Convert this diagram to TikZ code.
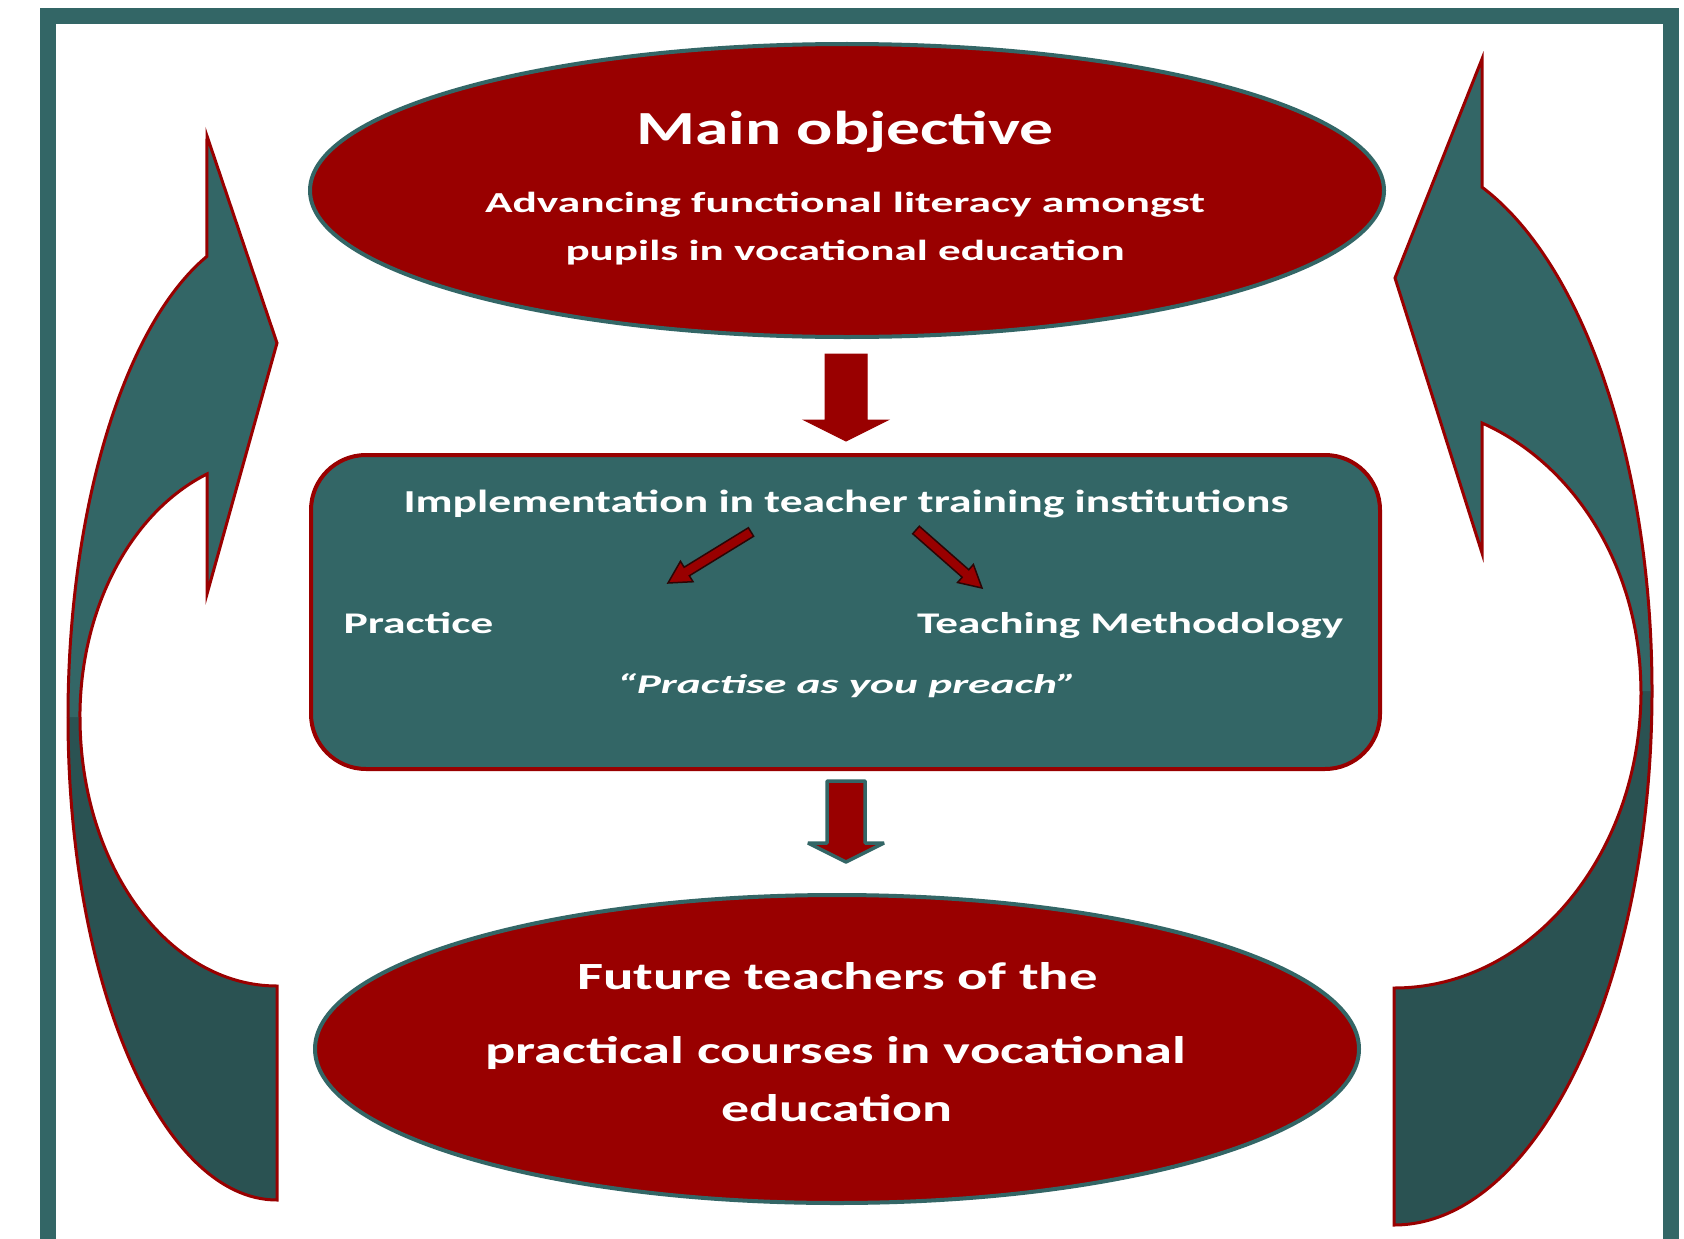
\documentclass[tikz,border=0pt]{standalone}
\usepackage{fontspec}
\usetikzlibrary{calc,shapes.geometric}
\setmainfont{Carlito}
\definecolor{wine}{HTML}{990000}
\definecolor{tealbase}{HTML}{336666}
\definecolor{tealdeep}{HTML}{2A5252}
\definecolor{inkline}{HTML}{2B0505}

% one line of text set at a given size and stretched to a given width
\newsavebox\fitbox
\newcommand\fitline[3]{%
  \sbox\fitbox{\fontsize{#1}{#1}\selectfont\bfseries #3}%
  \pgfmathsetmacro\fitscale{#2/\the\wd\fitbox}%
  \scalebox{\fitscale}[1]{\usebox\fitbox}}

% vertical block arrow from #2 down to #3; shaft half width #4, head half width #5, head length #6
\newcommand\droparrow[6]{%
  \draw[#1] ($(#2)+(-#4,0)$) -- ($(#3)+(-#4,-#6)$) -- ($(#3)+(-#5,-#6)$) -- (#3)
    -- ($(#3)+(#5,-#6)$) -- ($(#3)+(#4,-#6)$) -- ($(#2)+(#4,0)$) -- cycle;}

% slanted block arrow from #1 to #2
\newcommand\slantarrow[2]{%
  \coordinate (hb) at ($(#2)!22pt!(#1)$);
  \draw[smallarrow] ($(#1)!5pt!90:(#2)$) -- ($(hb)!5pt!90:(#2)$) -- ($(hb)!12pt!90:(#2)$)
    -- (#2) -- ($(hb)!12pt!-90:(#2)$) -- ($(hb)!5pt!-90:(#2)$) -- ($(#1)!5pt!-90:(#2)$) -- cycle;}

\tikzset{
  goalshape/.style={ellipse, draw=tealbase, line width=4pt, fill=wine, inner sep=0pt},
  stagebox/.style={rectangle, rounded corners=55pt, draw=wine, line width=4pt, fill=tealbase, inner sep=0pt},
  bandedge/.style={draw=wine, line width=3pt, line join=miter},
  txt/.style={text=white, inner sep=0pt, outer sep=0pt, anchor=base},
  reddrop/.style={fill=wine, draw=wine, line width=1pt},
  tealdrop/.style={fill=wine, draw=tealbase, line width=3.5pt, line join=bevel},
  smallarrow/.style={fill=wine, draw=inkline, line width=1.5pt, line join=miter},
}

\begin{document}
\begin{tikzpicture}[x=1pt,y=-1pt]
\useasboundingbox (0,0) rectangle (1684,1239);
\clip (0,0) rectangle (1684,1239);
\fill[white] (0,0) rectangle (1684,1239);

% outer frame
\draw[tealbase, line width=16pt] (48,16.5) rectangle (1671,1250);

% left curved arrow: back part (dark), then front part with head
\fill[tealdeep] (277,1200) arc[start angle=90, end angle=180, x radius=209, y radius=483]
  -- (80,717) arc[start angle=180, end angle=90, x radius=197, y radius=269] -- cycle;
\draw[bandedge] (80,717) arc[start angle=180, end angle=90, x radius=197, y radius=269]
  -- (277,1200) arc[start angle=90, end angle=180, x radius=209, y radius=483];
\fill[tealbase] (68,717) arc[start angle=180, end angle=250.4, x radius=209, y radius=489]
  -- (207,136) -- (277,343) -- (207,594) -- (207,474)
  arc[start angle=249.2, end angle=180, x radius=197, y radius=260] -- cycle;
\draw[bandedge] (68,717) arc[start angle=180, end angle=250.4, x radius=209, y radius=489]
  -- (207,136) -- (277,343) -- (207,594) -- (207,474)
  arc[start angle=249.2, end angle=180, x radius=197, y radius=260];

% right curved arrow
\fill[tealdeep] (1394,1225) arc[start angle=90, end angle=0, x radius=258, y radius=534]
  -- (1641,691) arc[start angle=0, end angle=90, x radius=247, y radius=297] -- cycle;
\draw[bandedge] (1641,691) arc[start angle=0, end angle=90, x radius=247, y radius=297]
  -- (1394,1225) arc[start angle=90, end angle=0, x radius=258, y radius=534];
\fill[tealbase] (1652,691) arc[start angle=0, end angle=-70.06, x radius=258, y radius=536]
  -- (1482,59) -- (1395,278) -- (1482,553) -- (1482,423)
  arc[start angle=-69.1, end angle=0, x radius=247, y radius=287] -- cycle;
\draw[bandedge] (1652,691) arc[start angle=0, end angle=-70.06, x radius=258, y radius=536]
  -- (1482,59) -- (1395,278) -- (1482,553) -- (1482,423)
  arc[start angle=-69.1, end angle=0, x radius=247, y radius=287];

% main objective
\node[goalshape, minimum width=1074pt, minimum height=293pt] (goal) at (847,190.5) {};
\node[txt] (goaltitle) at (845,144) {\fitline{47.5pt}{417}{Main objective}};
\node[txt] (goalline1) at (845,212) {\fitline{29pt}{720}{Advancing functional literacy amongst}};
\node[txt] (goalline2) at (845,260) {\fitline{29pt}{559}{pupils in vocational education}};

% implementation stage
\node[stagebox, minimum width=1069pt, minimum height=314pt] (stage) at (845.5,612) {};
\node[txt] (stagetitle) at (846,512) {\fitline{32pt}{885}{Implementation in teacher training institutions}};
\node[txt, anchor=base west] (practice) at (343.5,633) {\fitline{30pt}{150}{Practice}};
\node[txt, anchor=base west] (method) at (917,633) {\fitline{30pt}{426}{Teaching Methodology}};
\node[txt] (motto) at (847,693) {\fitline{27pt}{460}{\itshape “Practise as you preach”}};

% target group
\node[goalshape, minimum width=1044pt, minimum height=308pt] (target) at (837,1049) {};
\node[txt] (target1) at (837.5,989) {\fitline{38.5pt}{521}{Future teachers of the}};
\node[txt] (target2) at (836,1063) {\fitline{38.5pt}{701}{practical courses in vocational}};
\node[txt] (target3) at (837,1121) {\fitline{38.5pt}{231}{education}};

% connectors between the stages
\coordinate (d1s) at (846,354);
\coordinate (d1e) at (846,441);
\coordinate (d2s) at (846,781);
\coordinate (d2e) at (846,862);
\droparrow{reddrop}{d1s}{d1e}{21}{42}{21}
\droparrow{tealdrop}{d2s}{d2e}{19}{38}{19}

% branches inside the stage box
\coordinate (b1s) at (751,532);
\coordinate (b1e) at (668,583);
\coordinate (b2s) at (916,530);
\coordinate (b2e) at (982,588);
\slantarrow{b1s}{b1e}
\slantarrow{b2s}{b2e}
\end{tikzpicture}
\end{document}
